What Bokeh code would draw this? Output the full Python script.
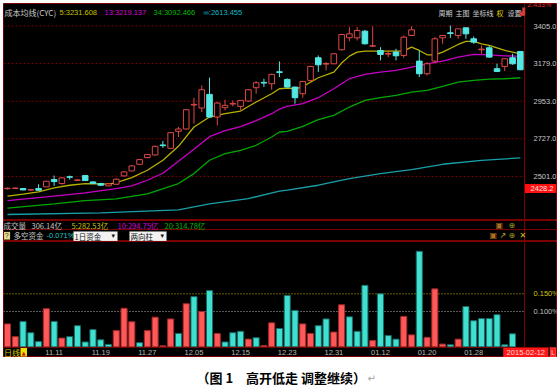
from bokeh.plotting import figure
from bokeh.layouts import column
from bokeh.models import Range1d, Label, Span, BoxAnnotation, ColumnDataSource
from bokeh.core.properties import value
from bokeh.embed import file_html
from bokeh.resources import INLINE

# ---------------- data ----------------
opens = [2427, 2429, 2428, 2419, 2428, 2438, 2482, 2458, 2499, 2477, 2506, 2468, 2458, 2444, 2454, 2504, 2534,
         2574, 2614, 2630, 2690, 2670, 2772, 2786, 2930, 2912, 2994, 2858, 2914, 2936, 2922, 2954, 3034, 3066,
         3058, 3130, 3084, 3038, 2998, 3078, 3214, 3176, 3178, 3262, 3334, 3334, 3374, 3284, 3258, 3236, 3248,
         3228, 3348, 3194, 3118, 3194, 3334, 3364, 3348, 3394, 3328, 3262, 3274, 3148, 3162, 3214, 3252]
highs = [2434, 2434, 2430, 2424, 2454, 2474, 2506, 2494, 2506, 2484, 2508, 2472, 2462, 2460, 2490, 2534, 2568,
         2606, 2636, 2686, 2714, 2768, 2798, 2906, 2974, 3048, 3094, 2948, 2962, 2958, 2960, 3026, 3074, 3088,
         3118, 3192, 3090, 3040, 3074, 3166, 3228, 3188, 3240, 3358, 3398, 3398, 3382, 3402, 3278, 3258, 3268,
         3348, 3402, 3258, 3188, 3338, 3350, 3408, 3388, 3398, 3342, 3288, 3288, 3178, 3208, 3238, 3254]
lows = [2422, 2425, 2418, 2415, 2416, 2436, 2444, 2452, 2482, 2474, 2474, 2455, 2444, 2442, 2450, 2500, 2532,
        2572, 2610, 2626, 2672, 2666, 2738, 2782, 2818, 2888, 2854, 2808, 2898, 2922, 2898, 2950, 2998, 3038,
        3022, 3098, 3036, 2938, 2974, 3074, 3128, 3138, 3176, 3258, 3314, 3318, 3294, 3278, 3198, 3218, 3198,
        3214, 3346, 3098, 3108, 3182, 3298, 3334, 3328, 3328, 3298, 3238, 3214, 3128, 3134, 3172, 3140]
closes = [2430, 2431, 2420, 2421, 2418, 2472, 2470, 2492, 2496, 2480, 2476, 2458, 2448, 2456, 2484, 2528, 2564,
          2602, 2632, 2682, 2686, 2764, 2786, 2902, 2934, 3022, 2858, 2942, 2928, 2940, 2958, 3022, 3064, 3062,
          3114, 3126, 3038, 2974, 3072, 3162, 3172, 3180, 3238, 3354, 3358, 3378, 3298, 3286, 3234, 3240, 3226,
          3338, 3382, 3118, 3178, 3328, 3348, 3360, 3388, 3358, 3308, 3266, 3218, 3132, 3208, 3178, 3142]

cyc5_x = [0, 2, 4, 6, 8, 10, 12, 13, 14, 16, 18, 20, 22, 24, 26, 28, 30, 32, 34, 35, 36, 37, 38, 39, 40, 42, 43,
          44, 45, 46, 48, 50, 51, 52, 53, 54, 55, 56, 58, 59, 60, 61, 62, 64, 66]
cyc5_y = [2382, 2394, 2408, 2432, 2448, 2458, 2456, 2454, 2464, 2494, 2538, 2598, 2682, 2798, 2858, 2878, 2894,
          2948, 2998, 3028, 3032, 3028, 3038, 3068, 3094, 3128, 3182, 3224, 3248, 3254, 3254, 3254, 3256, 3278,
          3258, 3232, 3232, 3248, 3294, 3312, 3312, 3298, 3288, 3258, 3238]
cyc13_x = [0, 5, 10, 14, 16, 18, 20, 22, 24, 26, 28, 30, 32, 34, 35, 36, 38, 40, 42, 44, 46, 48, 50, 52, 54, 56,
           58, 60, 62, 64, 66]
cyc13_y = [2356, 2378, 2402, 2428, 2444, 2478, 2520, 2592, 2664, 2740, 2776, 2800, 2836, 2878, 2906, 2922, 2938,
           2974, 3028, 3088, 3114, 3128, 3138, 3158, 3178, 3194, 3218, 3234, 3232, 3226, 3222]
cyc34_x = [0, 6, 10, 14, 18, 22, 24, 26, 28, 30, 32, 34, 35, 36, 38, 40, 42, 44, 46, 48, 50, 52, 54, 56, 58, 60,
           62, 64, 66]
cyc34_y = [2310, 2336, 2356, 2366, 2396, 2458, 2518, 2598, 2638, 2658, 2688, 2738, 2768, 2772, 2802, 2842, 2868,
           2918, 2958, 2974, 2988, 3008, 3018, 3042, 3068, 3078, 3086, 3088, 3094]
cycinf_x = [0, 12, 22, 26, 31, 35, 36, 40, 44, 48, 52, 56, 61, 66]
cycinf_y = [2272, 2282, 2300, 2336, 2368, 2412, 2418, 2448, 2488, 2518, 2542, 2574, 2598, 2612]

fund_vals = [0.065, 0.029, 0.072, 0.040, 0.015, 0.108, 0.072, 0.025, 0.029, 0.060, 0.014, 0.049, 0.020, 0.007,
             0.046, 0.109, 0.071, 0.012, 0.046, 0.084, 0.003, 0.079, 0.038, 0.122, 0.142, 0.100, 0.159, 0.038,
             0.014, 0.040, 0.044, 0.022, 0.026, 0.004, 0.068, 0.052, 0.145, 0.103, 0.065, 0.038, 0.060, 0.079,
             0.042, 0.119, 0.085, 0.044, 0.174, 0.018, 0.150, 0.032, 0.022, 0.086, 0.034, 0.270, 0.027, 0.164,
             0.008, 0.006, 0.022, 0.114, 0.074, 0.080, 0.080, 0.091, 0.006, 0.037, 0.072]
fund_side = "RRCCCRCRCCCCCCRRRCRRRRCRCRCRCCCRCRRCCCRRCCRRCCCRCCCRRCRRRCRCCCCCCC"

date_ticks = [6, 12, 18, 24, 30, 36, 42, 48, 54, 60]
date_labels = ["11.11", "11.19", "11.27", "12.05", "12.15", "12.23", "12.31", "01.12", "01.20", "01.28"]
axis_ticks = [2501, 2727, 2953, 3179, 3405]
axis_labels = ["%.1f" % t for t in axis_ticks]
fund_ticks = [0.15, 0.10]
fund_labels = ["0.150%", "0.100%"]

# ---------------- style ----------------
DR = "#7A0000"
UP = "#E04848"
DN = "#54E8E4"
C5, C13, C34, CINF = "#B8B000", "#C800C8", "#00A800", "#18A0A8"
NUM = "Liberation Sans"
CJK = "Noto Sans CJK SC"


def fx(xr):          # reference pixel x -> candle index
    return (xr - 7) / 7.77


def fy(yr):          # reference pixel y -> price
    return 3405 - (yr - 25.5) * 6.01


def vy(yr):          # reference pixel y -> fund %
    return (346.4 - yr) * 0.05 / 17.7


def lab(p, x, y, text, color, size="7.5px", font=NUM, align="left", **kw):
    p.add_layout(Label(x=x, y=y, text=text, text_color=color, text_font_size=size, text_font=font,
                       text_baseline="middle", text_align=align, **kw))


def panel(height, xr, yr, bg="black", top=0):
    p = figure(frame_width=553, frame_height=height, x_range=xr, y_range=yr,
               output_backend="svg", toolbar_location=None, x_axis_location=None, y_axis_location=None,
               min_border_left=3, min_border_right=3, min_border_top=top, min_border_bottom=0,
               background_fill_color=bg, border_fill_color="white",
               outline_line_color=DR if bg == "black" else None)
    p.grid.visible = False
    return p


XR = Range1d(fx(3), fx(556))

# ---------------- price panel ----------------
n = len(opens)
xs = list(range(n))
up = [c >= o for o, c in zip(opens, closes)]
src = ColumnDataSource(dict(
    x=xs, high=highs, low=lows,
    top=[max(o, c) for o, c in zip(opens, closes)],
    bottom=[min(o, c) for o, c in zip(opens, closes)],
    color=[UP if u else DN for u in up],
    fill=["black" if u else DN for u in up]))

p1 = panel(217, XR, Range1d(fy(220), fy(3)), top=3)
p1.segment(x0=[fx(3)] * len(axis_ticks), y0=axis_ticks, x1=[fx(524)] * len(axis_ticks), y1=axis_ticks,
           line_color=DR, line_dash="2 2", line_width=1)
p1.add_layout(Span(location=fx(524), dimension="height", line_color=DR, line_width=1))
p1.text(x=[fx(533)] * len(axis_ticks), y=axis_ticks, text=axis_labels, text_color="#C8C8C8",
        text_font=value(NUM), text_font_size="7.5px", text_baseline="middle", text_align="left")

p1.line(cycinf_x, cycinf_y, line_color=CINF, line_width=1.3)
p1.line(cyc34_x, cyc34_y, line_color=C34, line_width=1.3)
p1.line(cyc13_x, cyc13_y, line_color=C13, line_width=1.3)
p1.line(cyc5_x, cyc5_y, line_color=C5, line_width=1.3)
p1.segment(x0="x", y0="high", x1="x", y1="low", line_color="color", line_width=1, source=src)
p1.vbar(x="x", width=0.72, top="top", bottom="bottom", fill_color="fill", line_color="color",
        line_width=1, source=src)

lab(p1, fx(4), fy(12), "成本均线(CYC)", "#C8C8C8", "8px", CJK)
lab(p1, fx(59), fy(12), "5:3231.608", "#C8C000")
lab(p1, fx(104), fy(12), "13:3219.137", "#D800D8")
lab(p1, fx(153), fy(12), "34:3092.466", "#00B800")
lab(p1, fx(203), fy(12), "∞:2613.455", "#10B8C8")
for xr, t, c in [(438, "周期", "#D0D0D0"), (455, "主图", "#D0D0D0"), (472, "坐标线", "#D0D0D0"),
                 (496, "权", "#E0D000"), (507, "设置", "#D0D0D0")]:
    lab(p1, fx(xr), fy(12), t, c, "7px", CJK)
lab(p1, fx(519), fy(11), "▟", "#D04040", "7px", "DejaVu Sans")
lab(p1, fx(527), fy(4), "2.433%", "#E03030", "7px", NUM)
p1.add_layout(BoxAnnotation(left=fx(524.5), right=fx(556), top=fy(183.5), bottom=fy(192.5),
                            fill_color="#FF1010", fill_alpha=1, line_color=None))
lab(p1, fx(553), fy(188), "2428.2", "#FFE0E0", "7.5px", NUM, align="right")

# ---------------- info rows ----------------
p2 = panel(21, Range1d(3, 556), Range1d(241, 220))
p2.add_layout(Span(location=229, dimension="width", line_color=DR, line_width=1))
p2.add_layout(Span(location=524, dimension="height", line_color=DR, line_width=1))
lab(p2, 3, 224.7, "成交量", "#C0C0C0", "7.5px", CJK)
lab(p2, 31, 224.7, "306.14亿", "#C8C8C8", "7.5px", CJK)
lab(p2, 71, 224.7, "5:282.53亿", "#C8C000", "7.5px", CJK)
lab(p2, 117, 224.7, "10:294.75亿", "#D800D8", "7.5px", CJK)
lab(p2, 164, 224.7, "20:314.78亿", "#00B800", "7.5px", CJK)
p2.add_layout(BoxAnnotation(left=3.5, right=9.5, top=231.5, bottom=239, fill_color="#E8E090", fill_alpha=1,
                            line_color="#A09050"))
lab(p2, 4.6, 235.4, "?", "#202020", "6.5px", NUM)
lab(p2, 13, 235.2, "多空资金", "#C8C8C8", "7.5px", CJK)
lab(p2, 46, 235.2, "-0.071%", "#20C8C0", "7.5px", NUM)
p2.add_layout(BoxAnnotation(left=73, right=117, top=231, bottom=240.5, fill_color="#F2F2F2", fill_alpha=1,
                            line_color="#909090", line_width=1))
p2.add_layout(BoxAnnotation(left=129, right=166, top=231, bottom=240.5, fill_color="#F2F2F2", fill_alpha=1,
                            line_color="#909090", line_width=1))
lab(p2, 74, 235.7, "1日资金", "#101010", "7.5px", CJK)
lab(p2, 111, 235.7, "▾", "#101010", "7px", "DejaVu Sans")
lab(p2, 130, 235.7, "两向柱", "#101010", "7.5px", CJK)
lab(p2, 160, 235.7, "▾", "#101010", "7px", "DejaVu Sans")
for xr, yr, t, c in [(495, 224.7, "▣", "#B07020"), (508, 224.7, "⊕", "#A0A020"),
                     (489, 235.2, "▣", "#B07020"), (499, 235.2, "↗", "#C0B020"),
                     (508, 235.2, "⊕", "#A0A020"), (519, 235.2, "✕", "#D0C020")]:
    lab(p2, xr, yr, t, c, "8px", "DejaVu Sans")

# ---------------- fund bars panel ----------------
fsrc = ColumnDataSource(dict(
    x=xs, v=fund_vals,
    fill=["#FF5858" if s == "R" else "#40E0D0" for s in fund_side],
    line=["#A02828" if s == "R" else "#1A6A66" for s in fund_side]))
p3 = panel(116, XR, Range1d(vy(357), vy(241)))
p3.add_layout(Span(location=fx(524), dimension="height", line_color=DR, line_width=1))
p3.add_layout(Span(location=vy(346.9), dimension="width", line_color=DR, line_width=1))
p3.segment(x0=[fx(3)] * 2, y0=fund_ticks, x1=[fx(524)] * 2, y1=fund_ticks,
           line_color=["#C8C000", "#B0B0B0"], line_dash="1 2", line_width=1)
p3.vbar(x="x", width=0.78, top="v", bottom=0, fill_color="fill", line_color="line", line_width=1, source=fsrc)
p3.text(x=[fx(533)] * 2, y=fund_ticks, text=fund_labels, text_color=["#D0C800", "#C0C0C0"],
        text_font=value(NUM), text_font_size="7.5px", text_baseline="middle", text_align="left")
p3.text(x=date_ticks, y=[vy(351.8)] * len(date_ticks), text=date_labels, text_color="#B8B8B8",
        text_font=value(NUM), text_font_size="7.5px", text_baseline="middle", text_align="center")
lab(p3, fx(3.5), vy(351.8), "日线", "#D0C800", "8px", CJK)
p3.add_layout(BoxAnnotation(left=fx(20), right=fx(26.5), top=vy(347.5), bottom=vy(356),
                            fill_color="#F0E000", fill_alpha=1, line_color=None))
lab(p3, fx(23.2), vy(352), "▲", "#C01010", "5px", "DejaVu Sans", align="center")
p3.add_layout(BoxAnnotation(left=fx(502.7), right=fx(548), top=vy(347.3), bottom=vy(356.5),
                            fill_color="#FF1818", fill_alpha=1, line_color=None))
lab(p3, fx(525.3), vy(352), "2015-02-12", "#FFD8D8", "7.5px", NUM, align="center")
p3.add_layout(BoxAnnotation(left=fx(549.5), right=fx(555.5), top=vy(347.3), bottom=vy(356.5),
                            fill_color="#FF1818", fill_alpha=1, line_color="#FFC0C0"))
lab(p3, fx(552.5), vy(352), "L", "#FFE0E0", "6.5px", NUM, align="center")

# ---------------- caption ----------------
p4 = panel(33, Range1d(3, 556), Range1d(390, 357), bg="white")
lab(p4, 196, 376.5, "（图 1　高开低走 调整继续）", "#000000", "13px", CJK, text_font_style="bold")
lab(p4, 367, 377.5, "↵", "#A0A0A0", "10px", "DejaVu Sans")

layout = column(p1, p2, p3, p4, spacing=0)
open("out.html", "w").write(file_html(layout, INLINE))
